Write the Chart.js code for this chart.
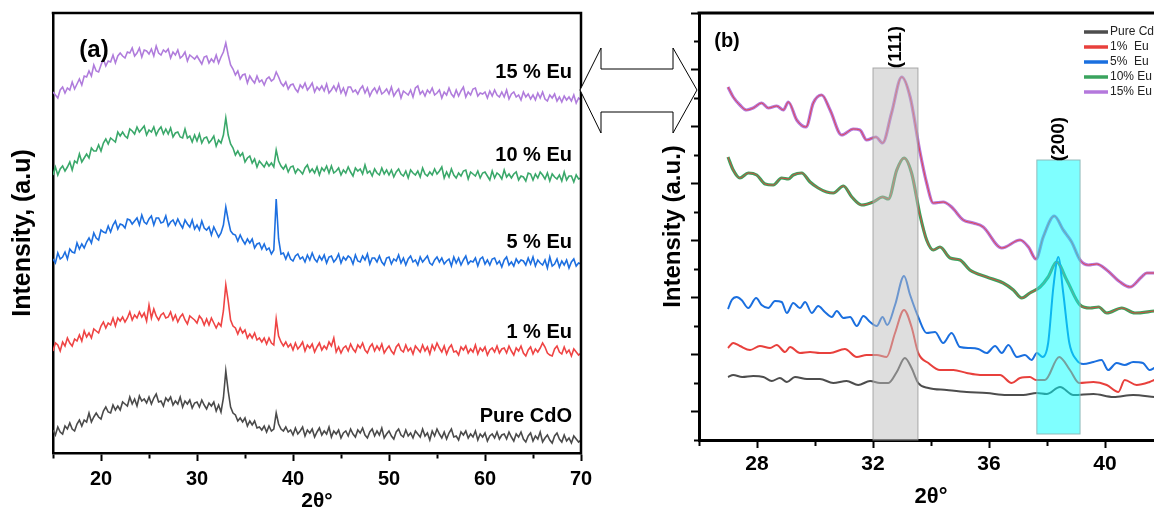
<!DOCTYPE html>
<html lang="en">
<head>
<meta charset="UTF-8">
<title>XRD patterns of Eu doped CdO</title>
<style>
  html, body { margin: 0; padding: 0; background: #fff; overflow: hidden; }
  #wrap { position: relative; width: 1154px; height: 514px; overflow: hidden; }
  #chartA { position: absolute; left: 0; top: 0; }
  #chartB { position: absolute; left: 640px; top: 0; }
  #arrow { position: absolute; left: 0; top: 0; pointer-events: none; }
</style>
</head>
<body>
<div id="wrap">
  <canvas id="chartA" width="600" height="514"></canvas>
  <canvas id="chartB" width="560" height="514"></canvas>
  <svg id="arrow" width="1154" height="514">
    <polygon points="580,90 601,48 601,69 673,69 673,48 697,90 673,133 673,112 601,112 601,133"
             fill="#fff" stroke="#000" stroke-width="1"/>
  </svg>
</div>
<script src="https://cdn.jsdelivr.net/npm/chart.js"></script>
<script>
  // (a) wide scans, 15-70 deg, one reading every 0.25 deg (four per row below), stacked with offsets
  const scanStart = 15, scanStep = 0.25;
  const namesA = ['Pure CdO', '1 % Eu', '5 % Eu', '10 % Eu', '15 % Eu'];
  const pureA = [
    23,18,26,21, 19,27,24,30, 24,22,29,33, 27,33,31,40, 31,36,40,36,
    34,42,46,41, 40,48,43,47, 43,51,49,47, 56,49,54,47, 57,52,54,50,
    56,49,55,59, 51,52,47,55, 52,56,48,52, 49,56,46,52, 49,53,45,50,
    51,46,53,48, 44,50,47,51, 42,48,41,55, 82,62,46,40, 38,32,35,31,
    35,27,32,28, 32,25,26,23, 27,21,27,22, 24,40,29,24, 22,26,21,23,
    18,25,19,22, 26,17,23,20, 24,16,21,25, 18,22,19,26, 16,22,19,23,
    15,20,22,17, 24,19,16,23, 20,25,18,15, 21,24,17,22, 18,25,15,19,
    22,17,14,21, 24,18,16,23, 17,20,15,22, 19,16,24,17, 20,13,22,17,
    24,19,15,21, 14,20,24,16, 17,13,21,18, 22,15,19,16, 22,13,19,16,
    20,12,17,19, 15,21,14,18, 19,14,21,16, 12,19,16,21, 14,11,17,20,
    12,17,14,21, 11,15,18,13, 10,17,20,14, 11,18,12,15, 10,17,14,11,
    13];
  const eu1A = [
    102,110,108,102, 111,107,115,110, 107,114,112,118, 112,122,116,120, 115,124,122,120,
    127,131,125,130, 128,135,127,135, 132,136,131,135, 141,133,138,135, 141,136,140,132,
    148,135,144,137, 133,138,140,135, 136,141,133,138, 131,136,139,133, 129,137,135,133,
    130,137,134,128, 134,128,135,130, 125,130,127,142, 168,152,133,127, 125,119,125,120,
    123,115,119,115, 120,113,115,111, 115,109,115,110, 108,134,117,111, 107,111,106,109,
    103,110,104,107, 111,102,108,105, 109,101,106,110, 103,107,104,111, 107,115,101,106,
    100,105,107,102, 109,104,101,108, 105,110,103,100, 106,109,102,107, 103,109,100,104,
    107,102,99,106, 109,103,101,108, 102,105,99,107, 104,101,108,102, 106,99,108,103,
    110,105,101,107, 99,105,108,101, 102,98,106,103, 107,100,104,101, 108,99,105,102,
    106,98,103,105, 101,107,100,104, 105,100,107,102, 98,105,102,107, 100,97,103,106,
    99,104,101,105, 110,106,100,98, 97,104,107,101, 99,106,100,103, 97,104,101,98,
    100];
  const eu5A = [
    194,190,200,194, 196,201,194,204, 201,200,210,204, 209,205,211,215, 210,220,215,213,
    223,221,220,227, 221,228,232,224, 229,228,225,234, 233,229,232,235, 228,238,231,229,
    234,237,228,235, 235,230,231,237, 227,231,233,228, 234,229,225,233, 229,226,233,224,
    228,223,232,225, 223,226,218,226, 221,216,220,228, 246,233,222,219, 218,212,218,213,
    209,214,210,214, 205,209,210,204, 209,203,205,199, 203,254,214,199, 200,194,200,194,
    192,197,199,194, 196,191,198,193, 200,194,191,197, 193,198,190,196, 197,191,194,199,
    190,196,193,197, 195,189,198,192, 191,197,193,199, 189,195,195,191, 197,191,188,195,
    196,189,194,192, 198,190,195,188, 194,197,191,193, 188,196,191,194, 197,190,188,193,
    196,191,195,189, 192,194,187,196, 190,195,188,193, 197,189,192,191, 195,187,194,196,
    189,193,188,194, 195,189,192,186, 193,196,188,191, 187,194,190,193, 192,188,195,189,
    196,187,193,190, 188,193,185,196, 187,189,194,186, 192,188,193,185, 191,194,187,190,
    189];
  const eu10A = [
    278,286,278,284, 287,282,286,291, 283,292,290,299, 291,295,299,295, 305,302,302,308,
    302,310,314,309, 315,313,311,321, 317,321,317,315, 324,322,319,326, 321,324,327,318,
    323,321,326,318, 323,326,319,324, 319,325,316,320, 321,316,315,324, 315,317,311,318,
    312,319,310,315, 316,310,313,317, 307,313,310,318, 335,318,309,305, 298,302,297,300,
    291,295,297,290, 294,286,292,289, 286,291,287,290, 286,303,292,287, 284,288,281,286,
    287,280,284,282, 279,285,288,281, 284,280,286,278, 285,282,287,280, 287,280,282,285,
    278,283,280,286, 281,277,285,282, 284,279,288,280, 282,277,284,280, 278,285,279,283,
    278,283,276,281, 284,279,277,282, 275,283,280,278, 282,276,285,279, 277,281,278,284,
    279,282,286,275, 281,276,284,278, 275,280,277,282, 283,274,281,279, 277,282,275,280,
    281,277,273,282, 275,280,278,274, 283,276,279,275, 279,281,273,277, 276,272,280,279,
    273,279,275,281, 278,274,280,272, 279,276,274,278, 272,281,273,277, 277,271,278,274,
    275];
  const eu15A = [
    361,358,355,363, 366,360,365,363, 371,364,369,374, 368,377,376,382, 377,388,382,381,
    388,394,387,392, 391,398,390,397, 400,397,395,401, 400,405,397,400, 405,396,403,402,
    399,404,397,407, 400,398,403,401, 404,395,401,398, 403,395,397,401, 392,398,396,394,
    397,393,389,396, 397,390,394,391, 398,390,396,401, 410,398,388,384, 378,382,374,378,
    379,370,377,373, 370,377,371,373, 368,374,376,372, 374,381,376,370, 367,371,364,368,
    369,364,361,368, 365,370,363,366, 370,361,366,363, 367,362,369,360, 363,367,362,369,
    360,365,358,366, 366,361,363,359, 364,367,360,365, 357,362,365,360, 366,359,361,364,
    359,366,357,361, 364,355,362,360, 358,363,356,365, 367,359,362,357, 363,360,365,358,
    360,363,355,361, 358,365,359,356, 363,357,362,366, 356,361,358,364, 365,357,360,359,
    361,355,362,357, 363,358,356,361, 356,363,354,359, 361,356,358,353, 361,356,359,354,
    358,353,360,355, 361,354,352,358, 355,359,352,356, 351,357,353,356, 352,358,350,355,
    353];

  // (b) zoom on the (111) and (200) reflections
  const namesB = ['Pure CdO', '1%  Eu', '5%  Eu', '10% Eu', '15% Eu'];
  const pureBx = [27.0,27.18,27.49,27.87,28.22,28.51,28.79,29.03,29.31,29.72, 30.17,30.63,31.09,31.49,31.9,32.24,32.53,32.82,33.1,33.33,
    33.56,33.91,34.54,35.23,35.92,36.61,37.18,37.65,37.99,38.45, 38.91,39.6,40.29,40.97,41.7];
  const pureBy = [63,65,63,64,63,59,62,58,63,61, 61,57,59,55,59,57,57,68,82,72, 57,52,50,48,47,45,45,47,46,53, 45,46,43,45,43];
  const eu1Bx = [27.0,27.18,27.41,27.76,28.1,28.45,28.68,28.97,29.14,29.48, 29.83,30.17,30.52,31.03,31.44,31.78,32.13,32.47,32.76,33.07,
    33.33,33.56,33.91,34.31,34.77,35.23,35.69,36.38,36.78,37.07, 37.41,37.62,37.93,38.42,38.79,39.11,39.6,40.06,40.46,40.68, 41.09,41.54,41.7];
  const eu1By = [92,97,94,90,94,92,95,88,93,87, 88,87,87,91,83,85,85,83,107,130, 113,87,77,70,70,67,65,65,57,62,
    63,60,60,83,70,57,58,55,48,60, 55,58,60];
  const eu5Bx = [27.0,27.13,27.3,27.47,27.7,27.97,28.16,28.39,28.62,28.85, 29.03,29.25,29.48,29.66,29.89,30.11,30.34,30.58,30.75,30.98,
    31.21,31.44,31.67,31.9,32.13,32.33,32.49,32.76,33.07,33.28, 33.56,33.85,34.14,34.42,34.71,35.0,35.34,35.63,35.92,36.21,
    36.44,36.67,36.96,37.24,37.47,37.65,37.85,38.04,38.22,38.39, 38.56,38.77,39.02,39.25,39.6,39.88,40.11,40.4,40.68,40.97, 41.31,41.54,41.7];
  const eu5By = [131,140,143,140,132,142,135,132,139,138, 127,137,132,138,127,134,128,123,129,122, 123,114,124,118,114,123,115,135,164,145,
    123,107,108,97,107,93,92,91,87,94, 87,95,83,85,80,87,83,97,153,183, 147,97,80,76,78,80,70,77,75,78, 77,70,72];
  const eu10Bx = [27.0,27.18,27.41,27.7,27.99,28.28,28.56,28.85,29.08,29.25, 29.54,29.83,30.11,30.4,30.63,30.98,31.27,31.61,32.01,32.33,
    32.53,32.82,33.07,33.33,33.62,33.85,34.08,34.31,34.66,35.0, 35.34,35.92,36.49,36.84,37.13,37.41,37.76,38.04,38.33,38.68,
    39.14,39.49,39.78,40.06,40.58,41.03,41.7];
  const eu10By = [283,270,262,267,265,256,255,262,261,265, 267,258,252,248,247,254,243,235,238,243, 241,270,282,267,225,200,190,193,182,180,
    170,163,157,150,142,147,153,163,178,160, 135,132,133,127,132,127,129];
  const eu15Bx = [27.0,27.18,27.41,27.64,27.87,28.16,28.39,28.68,28.91,29.08, 29.37,29.69,29.94,30.23,30.52,30.92,31.32,31.55,31.78,32.1,
    32.33,32.64,32.99,33.28,33.62,33.85,34.08,34.42,34.71,35.11, 35.46,35.8,36.44,37.07,37.36,37.62,37.87,38.25,38.56,38.85,
    39.14,39.43,39.71,40.06,40.52,40.86,41.26,41.44,41.7];
  const eu15By = [353,343,335,330,332,337,332,334,330,338, 320,313,337,345,330,305,311,310,300,303, 297,327,363,343,288,257,237,238,233,220,
    217,213,192,200,193,181,203,224,210,198, 180,175,176,170,158,153,163,167,167];

  // shaded reflection windows in (b)
  const bandNames = ['(111)', '(200)'];
  const bandFrom = [32.0, 37.65];
  const bandTo = [33.55, 39.14];
  const bandTop = [372, 280];
  const bandBase = [0, 6];

  const FONT = "'Liberation Sans', Arial, sans-serif";
  Chart.defaults.font.family = FONT;
  Chart.defaults.color = '#000';

  const colorsA = ['#4a4a4a', '#ef4444', '#1d6fe0', '#3aa86a', '#b07cdc'];
  const colorsB = ['#4d4d4d', '#e8403c', '#1a6fdf', '#3aa35e', '#b478dc'];
  const bandFill = ['rgba(190,190,190,0.5)', 'rgba(0,255,255,0.5)'];
  const bandEdge = ['rgba(150,150,150,0.8)', 'rgba(140,180,180,0.9)'];

  // short ticks on unlabelled values, long ones on labelled
  const minorDash = labelled => ctx =>
    ctx.tick && labelled(ctx.tick.value) ? [] : [4, 100];

  const frameTop = (chart, w, withRight) => {
    const {ctx, chartArea: a} = chart;
    ctx.save();
    ctx.strokeStyle = '#000';
    ctx.lineWidth = w;
    ctx.beginPath();
    ctx.moveTo(a.left - w / 2, a.top);
    ctx.lineTo(a.right, a.top);
    if (withRight) ctx.lineTo(a.right, a.bottom + w / 2);
    ctx.stroke();
    ctx.restore();
  };

  const seriesA = [pureA, eu1A, eu5A, eu10A, eu15A];
  new Chart(document.getElementById('chartA'), {
    type: 'line',
    data: {
      datasets: seriesA.map((ys, k) => ({
        label: namesA[k],
        data: ys.map((y, i) => ({x: scanStart + scanStep * i, y})),
        borderColor: colorsA[k],
        borderWidth: 1.6,
        pointRadius: 0,
        tension: 0
      }))
    },
    options: {
      responsive: false,
      animation: false,
      events: [],
      layout: {padding: {left: 8, right: 19, top: 13, bottom: 0}},
      plugins: {legend: {display: false}, tooltip: {enabled: false}},
      scales: {
        x: {
          type: 'linear', min: 15, max: 70,
          ticks: {stepSize: 5, autoSkip: false, maxRotation: 0, padding: 6,
                  font: {size: 20, weight: 'bold'},
                  callback: v => v % 10 === 0 ? v : ''},
          grid: {drawOnChartArea: false, tickLength: 8, tickWidth: 2, tickColor: '#000',
                 tickBorderDash: minorDash(v => v % 10 === 0)},
          border: {color: '#000', width: 2.5},
          title: {display: true, text: '2θ°', font: {size: 21, weight: 'bold'}, padding: 0},
          afterFit: s => { s.height = 61; }
        },
        y: {
          min: 0, max: 440,
          ticks: {display: false},
          grid: {display: false},
          border: {color: '#000', width: 2.5},
          title: {display: true, text: 'Intensity, (a.u)', font: {size: 25, weight: 'bold'}, padding: 0},
          afterFit: s => { s.width = 45; }
        }
      }
    },
    plugins: [{
      id: 'panelA',
      afterDraw(chart) {
        frameTop(chart, 2.5, true);
        const ctx = chart.ctx;
        const rowY = [416, 332, 242, 155, 72];
        ctx.save();
        ctx.fillStyle = '#000';
        ctx.font = `bold 20px ${FONT}`;
        ctx.textAlign = 'right';
        ctx.textBaseline = 'middle';
        namesA.forEach((n, i) => ctx.fillText(n, 572, rowY[i]));
        ctx.font = `bold 24px ${FONT}`;
        ctx.textAlign = 'center';
        ctx.fillText('(a)', 94, 50);
        ctx.restore();
      }
    }]
  });

  const xsB = [pureBx, eu1Bx, eu5Bx, eu10Bx, eu15Bx];
  const ysB = [pureBy, eu1By, eu5By, eu10By, eu15By];
  const lineB = (k, color, width) => ({
    label: color === colorsB[k] ? namesB[k] : '',
    data: xsB[k].map((x, i) => ({x, y: ysB[k][i]})),
    borderColor: color,
    borderWidth: width,
    pointRadius: 0,
    cubicInterpolationMode: 'monotone'
  });
  const datasetsB = xsB.map((_, k) => lineB(k, colorsB[k], k >= 3 ? 3.2 : 2));
  // the 10 % and 15 % traces carry a thin red line along their middle (lower order = drawn on top)
  datasetsB.push({...lineB(3, colorsB[1], 0.9), order: -1}, {...lineB(4, colorsB[1], 0.9), order: -1});

  new Chart(document.getElementById('chartB'), {
    type: 'line',
    data: {datasets: datasetsB},
    options: {
      responsive: false,
      animation: false,
      events: [],
      layout: {padding: {left: 19, right: 37, top: 13, bottom: 0}},
      plugins: {legend: {display: false}, tooltip: {enabled: false}},
      scales: {
        x: {
          type: 'linear', min: 26, max: 42,
          ticks: {stepSize: 2, autoSkip: false, maxRotation: 0, padding: 4,
                  font: {size: 21, weight: 'bold'},
                  callback: v => v % 4 === 0 ? v : ''},
          grid: {drawOnChartArea: false, tickLength: 8, tickWidth: 2, tickColor: '#000',
                 tickBorderDash: minorDash(v => v % 4 === 0)},
          border: {color: '#000', width: 3},
          title: {display: true, text: '2θ°', font: {size: 22, weight: 'bold'}, padding: {top: 0, bottom: 4}},
          afterFit: s => { s.height = 74; }
        },
        y: {
          min: 0, max: 427,
          ticks: {display: false, stepSize: 427 / 15},
          grid: {drawOnChartArea: false, tickLength: 8, tickWidth: 2, tickColor: '#000',
                 tickBorderDash: ctx => ctx.index % 2 ? [] : [0, 3, 10, 100]},
          border: {color: '#000', width: 3},
          title: {display: true, text: 'Intensity (a.u.)', font: {size: 24, weight: 'bold'}, padding: 0},
          afterFit: s => { s.width = 40; }
        }
      }
    },
    plugins: [{
      id: 'panelB',
      afterDatasetsDraw(chart) {
        const {ctx, scales: {x, y}} = chart;
        ctx.save();
        bandNames.forEach((name, i) => {
          const l = x.getPixelForValue(bandFrom[i]);
          const r = x.getPixelForValue(bandTo[i]);
          const t = y.getPixelForValue(bandTop[i]);
          const b = y.getPixelForValue(bandBase[i]);
          ctx.fillStyle = bandFill[i];
          ctx.fillRect(l, t, r - l, b - t);
          ctx.strokeStyle = bandEdge[i];
          ctx.lineWidth = 1;
          ctx.strokeRect(l, t, r - l, b - t);
          ctx.save();
          ctx.translate((l + r) / 2, t - 21);
          ctx.rotate(-Math.PI / 2);
          ctx.fillStyle = '#000';
          ctx.font = `bold 19px ${FONT}`;
          ctx.textAlign = 'center';
          ctx.textBaseline = 'middle';
          ctx.fillText(name, 0, 0);
          ctx.restore();
        });
        ctx.restore();
      },
      afterDraw(chart) {
        frameTop(chart, 3, false);
        const ctx = chart.ctx;
        ctx.save();
        ctx.font = `12px ${FONT}`;
        ctx.textBaseline = 'middle';
        chart.data.datasets.filter(d => d.label).forEach((d, i) => {
          const yy = 32 + i * 15;
          ctx.strokeStyle = d.borderColor;
          ctx.lineWidth = 3.5;
          ctx.beginPath();
          ctx.moveTo(444, yy);
          ctx.lineTo(468, yy);
          ctx.stroke();
          ctx.fillStyle = '#222';
          ctx.fillText(d.label, 470, yy);
        });
        ctx.fillStyle = '#000';
        ctx.font = `bold 20px ${FONT}`;
        ctx.textAlign = 'center';
        ctx.fillText('(b)', 87, 41);
        ctx.restore();
      }
    }]
  });
</script>
</body>
</html>
